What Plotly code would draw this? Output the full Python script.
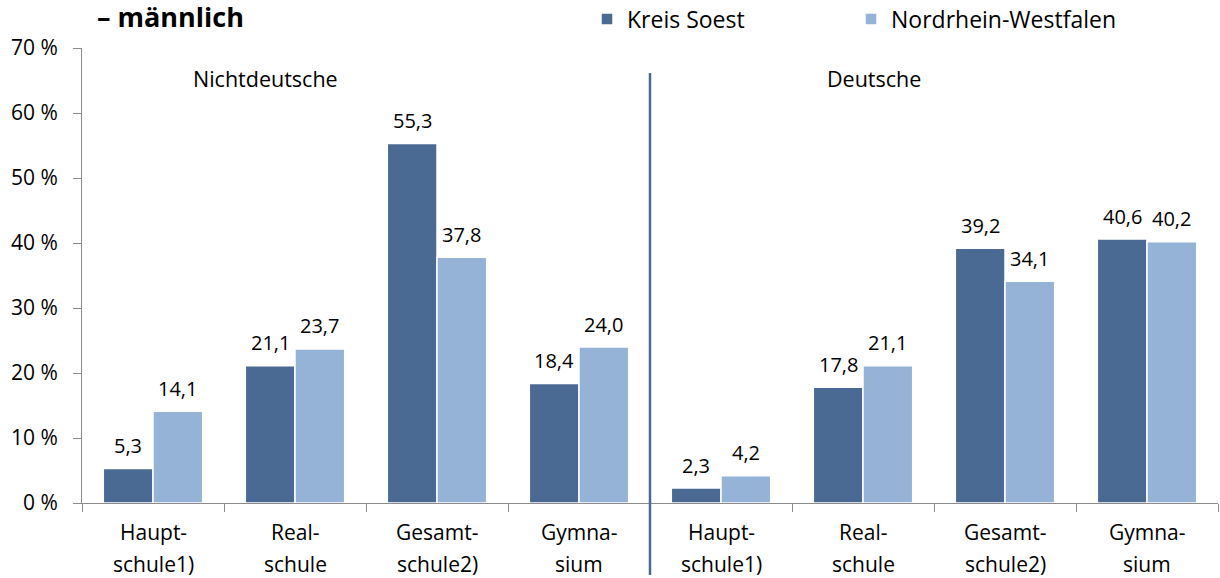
import plotly.graph_objects as go

# Schulformen (je Gruppe), Werte in Prozent
schools = [("Haupt-", "schule1)"), ("Real-", "schule"), ("Gesamt-", "schule2)"), ("Gymna-", "sium")]
groups = ["Nichtdeutsche", "Deutsche"]
kreis_soest = [5.3, 21.1, 55.3, 18.4, 2.3, 17.8, 39.2, 40.6]
nrw = [14.1, 23.7, 37.8, 24.0, 4.2, 21.1, 34.1, 40.2]
series_names = ["Kreis Soest", "Nordrhein-Westfalen"]

DARK = "#4A6A94"
LIGHT = "#95B3D7"
GREY = "#8C8C8C"
FONT = "Open Sans"

labels = schools * len(groups)
xs = list(range(len(labels)))

fig = go.Figure()
fig.add_trace(go.Bar(x=xs, y=kreis_soest, name=series_names[0],
                     marker=dict(color=DARK, line=dict(color="white", width=1.5))))
fig.add_trace(go.Bar(x=xs, y=nrw, name=series_names[1],
                     marker=dict(color=LIGHT, line=dict(color="white", width=1.5))))

annotations = []
# value labels above the bars
half = 0.35 / 2
for i, (a, b) in enumerate(zip(kreis_soest, nrw)):
    for xv, v in ((i - half, a), (i + half, b)):
        annotations.append(dict(x=xv, y=v, text=f"{v:.1f}".replace(".", ","),
                                showarrow=False, yanchor="middle", yshift=23,
                                font=dict(size=20, color="black", family=FONT)))
# two-line category labels
for i, (l1, l2) in enumerate(labels):
    for txt, shift in ((l1, -29), (l2, -61)):
        annotations.append(dict(x=i, y=0, yref="paper", text=txt, showarrow=False,
                                yanchor="middle", yshift=shift,
                                font=dict(size=21, color="black", family=FONT)))
# group labels
for gx, g in zip([0.79, 5.08], groups):
    annotations.append(dict(x=gx, y=65.3, text=g, showarrow=False, yanchor="middle",
                            font=dict(size=21.5, color="black", family=FONT)))

fig.update_layout(
    width=1220, height=578,
    paper_bgcolor="white", plot_bgcolor="white",
    margin=dict(l=82, r=2, t=48, b=75, autoexpand=False),
    barmode="group", bargap=0.3, bargroupgap=0,
    font=dict(family=FONT, color="black"),
    title=dict(text="<b>– männlich</b>", x=97 / 1220, xanchor="left", xref="container",
               y=1 - 18 / 578, yanchor="middle", font=dict(size=27, family=FONT)),
    legend=dict(orientation="h", xref="container", yref="container",
                x=587 / 1220, xanchor="left", y=1 - 19 / 578, yanchor="middle",
                font=dict(size=23, family=FONT), entrywidth=219, entrywidthmode="pixels",
                bgcolor="rgba(0,0,0,0)"),
    annotations=annotations,
    shapes=[dict(type="line", xref="x", yref="paper", x0=3.5, x1=3.5, y0=-0.158, y1=0.945,
                 line=dict(color=DARK, width=2.5))],
)
fig.update_xaxes(range=[-0.5, 7.5], showticklabels=False, showgrid=False, zeroline=False,
                 showline=True, linecolor=GREY, linewidth=1,
                 tickvals=[i - 0.5 for i in range(9)], ticks="outside", ticklen=8,
                 tickcolor=GREY)
fig.update_yaxes(range=[0, 70], dtick=10, ticksuffix=" %", showgrid=False, zeroline=False,
                 showline=True, linecolor=GREY, linewidth=1, ticks="outside", ticklen=8,
                 tickcolor=GREY, ticklabelstandoff=11,
                 tickfont=dict(size=21, family=FONT, color="black"))

fig.write_html("out.html", config={"displayModeBar": False},
               post_script="document.body.style.margin='0';")
